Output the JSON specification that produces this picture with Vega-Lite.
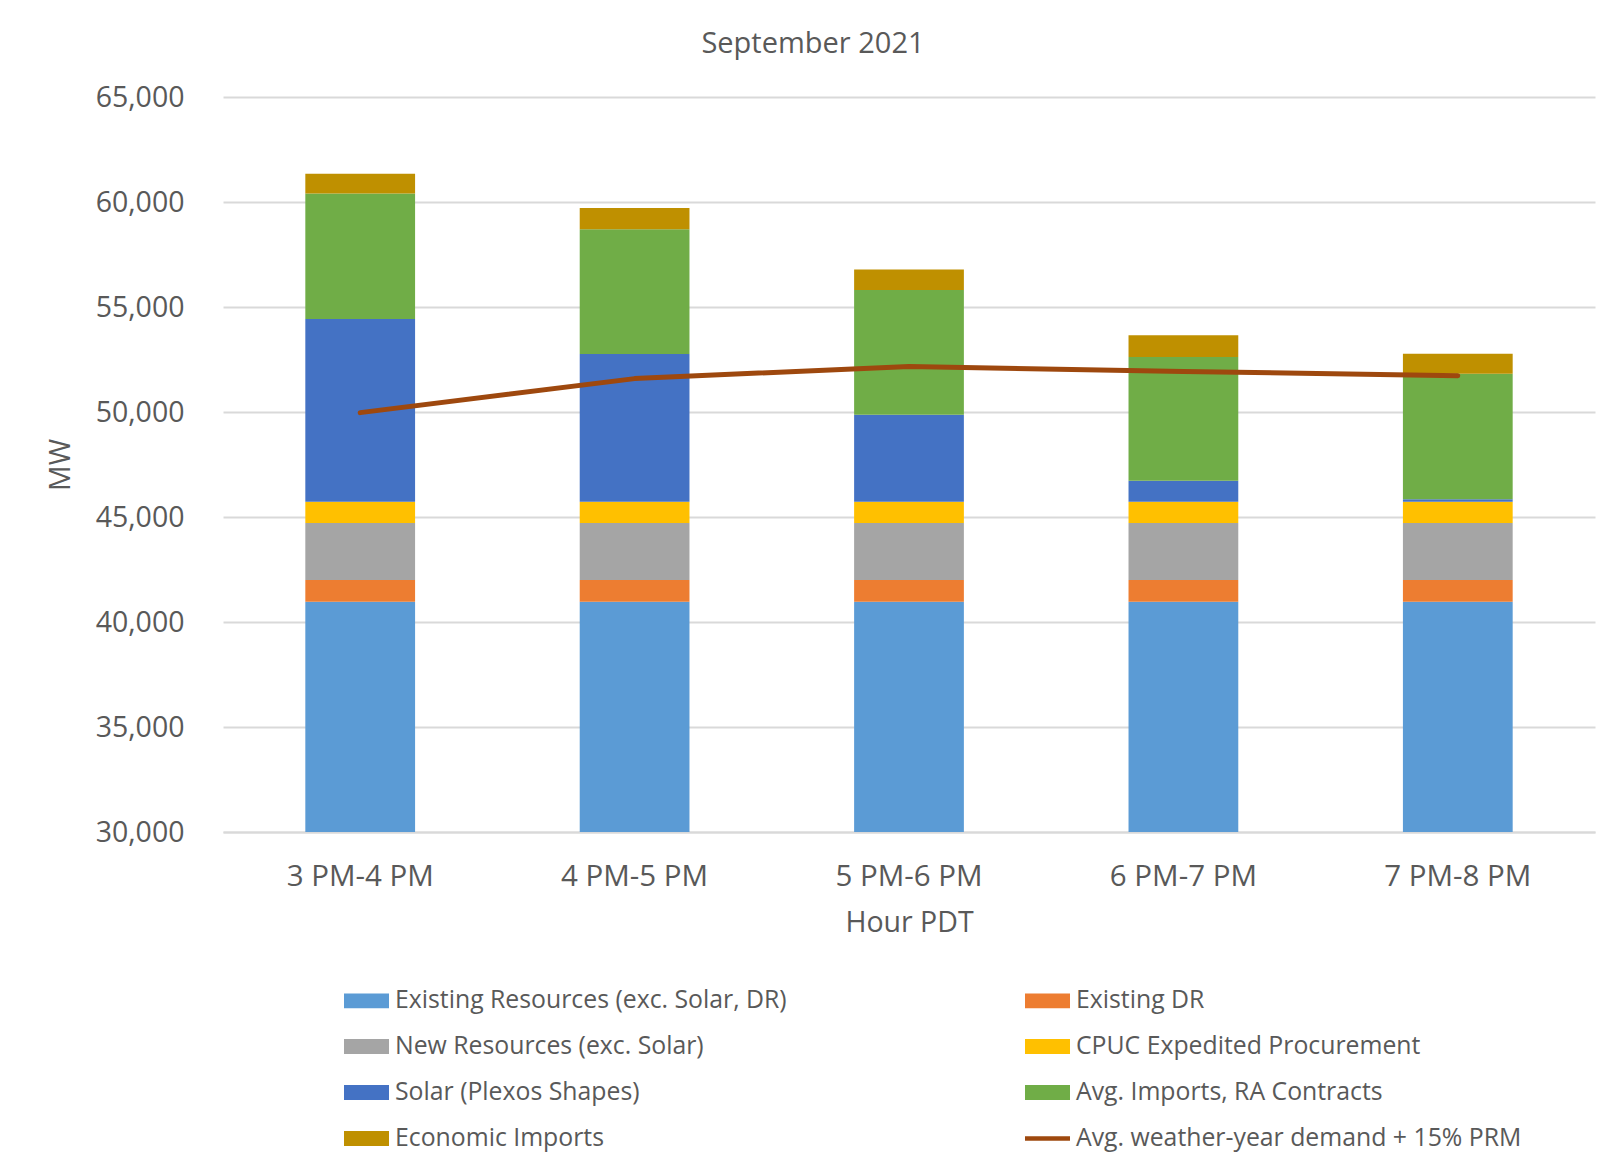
{
  "$schema": "https://vega.github.io/schema/vega-lite/v6.json",
  "width": 1372,
  "height": 735,
  "autosize": {"type": "none"},
  "padding": {"left": 223, "top": 97, "right": 6, "bottom": 344},
  "background": "white",
  "title": {
    "text": "September 2021",
    "font": "Open Sans",
    "fontSize": 29,
    "fontWeight": "normal",
    "color": "#595959",
    "anchor": "middle",
    "frame": "group",
    "dx": -96,
    "offset": 24
  },
  "datasets": {
    "bars": [
      {"hour": "3 PM-4 PM", "series": "Existing Resources (exc. Solar, DR)", "k": 1, "mw": 40970},
      {"hour": "4 PM-5 PM", "series": "Existing Resources (exc. Solar, DR)", "k": 1, "mw": 40970},
      {"hour": "5 PM-6 PM", "series": "Existing Resources (exc. Solar, DR)", "k": 1, "mw": 40970},
      {"hour": "6 PM-7 PM", "series": "Existing Resources (exc. Solar, DR)", "k": 1, "mw": 40970},
      {"hour": "7 PM-8 PM", "series": "Existing Resources (exc. Solar, DR)", "k": 1, "mw": 40970},
      {"hour": "3 PM-4 PM", "series": "Existing DR", "k": 2, "mw": 1030},
      {"hour": "4 PM-5 PM", "series": "Existing DR", "k": 2, "mw": 1030},
      {"hour": "5 PM-6 PM", "series": "Existing DR", "k": 2, "mw": 1030},
      {"hour": "6 PM-7 PM", "series": "Existing DR", "k": 2, "mw": 1030},
      {"hour": "7 PM-8 PM", "series": "Existing DR", "k": 2, "mw": 1030},
      {"hour": "3 PM-4 PM", "series": "New Resources (exc. Solar)", "k": 3, "mw": 2710},
      {"hour": "4 PM-5 PM", "series": "New Resources (exc. Solar)", "k": 3, "mw": 2710},
      {"hour": "5 PM-6 PM", "series": "New Resources (exc. Solar)", "k": 3, "mw": 2710},
      {"hour": "6 PM-7 PM", "series": "New Resources (exc. Solar)", "k": 3, "mw": 2710},
      {"hour": "7 PM-8 PM", "series": "New Resources (exc. Solar)", "k": 3, "mw": 2710},
      {"hour": "3 PM-4 PM", "series": "CPUC Expedited Procurement", "k": 4, "mw": 1020},
      {"hour": "4 PM-5 PM", "series": "CPUC Expedited Procurement", "k": 4, "mw": 1020},
      {"hour": "5 PM-6 PM", "series": "CPUC Expedited Procurement", "k": 4, "mw": 1020},
      {"hour": "6 PM-7 PM", "series": "CPUC Expedited Procurement", "k": 4, "mw": 1020},
      {"hour": "7 PM-8 PM", "series": "CPUC Expedited Procurement", "k": 4, "mw": 1020},
      {"hour": "3 PM-4 PM", "series": "Solar (Plexos Shapes)", "k": 5, "mw": 8700},
      {"hour": "4 PM-5 PM", "series": "Solar (Plexos Shapes)", "k": 5, "mw": 7030},
      {"hour": "5 PM-6 PM", "series": "Solar (Plexos Shapes)", "k": 5, "mw": 4140},
      {"hour": "6 PM-7 PM", "series": "Solar (Plexos Shapes)", "k": 5, "mw": 1000},
      {"hour": "7 PM-8 PM", "series": "Solar (Plexos Shapes)", "k": 5, "mw": 110},
      {"hour": "3 PM-4 PM", "series": "Avg. Imports, RA Contracts", "k": 6, "mw": 5970},
      {"hour": "4 PM-5 PM", "series": "Avg. Imports, RA Contracts", "k": 6, "mw": 5940},
      {"hour": "5 PM-6 PM", "series": "Avg. Imports, RA Contracts", "k": 6, "mw": 5940},
      {"hour": "6 PM-7 PM", "series": "Avg. Imports, RA Contracts", "k": 6, "mw": 5890},
      {"hour": "7 PM-8 PM", "series": "Avg. Imports, RA Contracts", "k": 6, "mw": 5980},
      {"hour": "3 PM-4 PM", "series": "Economic Imports", "k": 7, "mw": 950},
      {"hour": "4 PM-5 PM", "series": "Economic Imports", "k": 7, "mw": 1010},
      {"hour": "5 PM-6 PM", "series": "Economic Imports", "k": 7, "mw": 970},
      {"hour": "6 PM-7 PM", "series": "Economic Imports", "k": 7, "mw": 1030},
      {"hour": "7 PM-8 PM", "series": "Economic Imports", "k": 7, "mw": 950}
    ],
    "demand": [
      {"hour": "3 PM-4 PM", "mw": 49970},
      {"hour": "4 PM-5 PM", "mw": 51590},
      {"hour": "5 PM-6 PM", "mw": 52170},
      {"hour": "6 PM-7 PM", "mw": 51930},
      {"hour": "7 PM-8 PM", "mw": 51730}
    ]
  },
  "encoding": {
    "x": {
      "field": "hour",
      "type": "nominal",
      "sort": null,
      "scale": {"paddingInner": 0.6, "paddingOuter": 0.3},
      "axis": {
        "title": "Hour PDT",
        "labelAngle": 0,
        "labelFontSize": 29.5,
        "labelColor": "#595959",
        "labelPadding": 30,
        "ticks": false,
        "tickSize": 0,
        "domainColor": "#d9d9d9",
        "domainWidth": 2,
        "titleFontSize": 28.5,
        "titleFontWeight": "normal",
        "titleColor": "#595959",
        "titlePadding": 18
      }
    }
  },
  "layer": [
    {
      "data": {"name": "bars"},
      "mark": {"type": "bar", "clip": true},
      "encoding": {
        "y": {
          "field": "mw",
          "type": "quantitative",
          "stack": "zero",
          "scale": {"domain": [30000, 65000], "nice": false, "zero": false},
          "axis": {
            "title": "MW",
            "values": [30000, 35000, 40000, 45000, 50000, 55000, 60000, 65000],
            "format": ",.0f",
            "labelFontSize": 28.5,
            "labelColor": "#595959",
            "labelPadding": 39,
            "ticks": false,
            "tickSize": 0,
            "domain": false,
            "gridColor": "#d9d9d9",
            "gridWidth": 2,
            "titleFontSize": 28.5,
            "titleFontWeight": "normal",
            "titleColor": "#595959",
            "titlePadding": 20
          }
        },
        "order": {"field": "k", "type": "quantitative", "sort": "ascending"},
        "color": {
          "field": "series",
          "type": "nominal",
          "scale": {
            "domain": [
              "Existing Resources (exc. Solar, DR)",
              "Existing DR",
              "New Resources (exc. Solar)",
              "CPUC Expedited Procurement",
              "Solar (Plexos Shapes)",
              "Avg. Imports, RA Contracts",
              "Economic Imports",
              "Avg. weather-year demand + 15% PRM"
            ],
            "range": ["#5B9BD5", "#ED7D31", "#A5A5A5", "#FFC000", "#4472C4", "#70AD47", "#BF9000", "#9E480E"]
          },
          "legend": {
            "title": null,
            "orient": "none",
            "direction": "horizontal",
            "legendX": 121,
            "legendY": 881,
            "columns": 2,
            "columnPadding": 238,
            "rowPadding": 11,
            "padding": 0,
            "labelFont": "Open Sans",
            "labelFontSize": 24.8,
            "labelColor": "#595959",
            "labelLimit": 700,
            "labelOffset": 6,
            "symbolSize": 2025,
            "symbolStrokeWidth": 0,
            "symbolOpacity": 1,
            "encode": {
              "symbols": {
                "update": {
                  "shape": {"signal": "datum.value === 'Avg. weather-year demand + 15% PRM' ? 'M-1,-0.1H1V0.1H-1Z' : 'M-1,-0.33H1V0.33H-1Z'"},
                  "fill": {"scale": "color", "field": "value"},
                  "stroke": {"value": "transparent"}
                }
              }
            }
          }
        }
      }
    },
    {
      "data": {"name": "demand"},
      "mark": {"type": "line", "strokeWidth": 5, "strokeCap": "round", "strokeJoin": "round"},
      "encoding": {
        "y": {"field": "mw", "type": "quantitative"},
        "color": {"datum": "Avg. weather-year demand + 15% PRM", "type": "nominal"}
      }
    }
  ],
  "config": {
    "view": {"stroke": null},
    "font": "Open Sans"
  }
}
